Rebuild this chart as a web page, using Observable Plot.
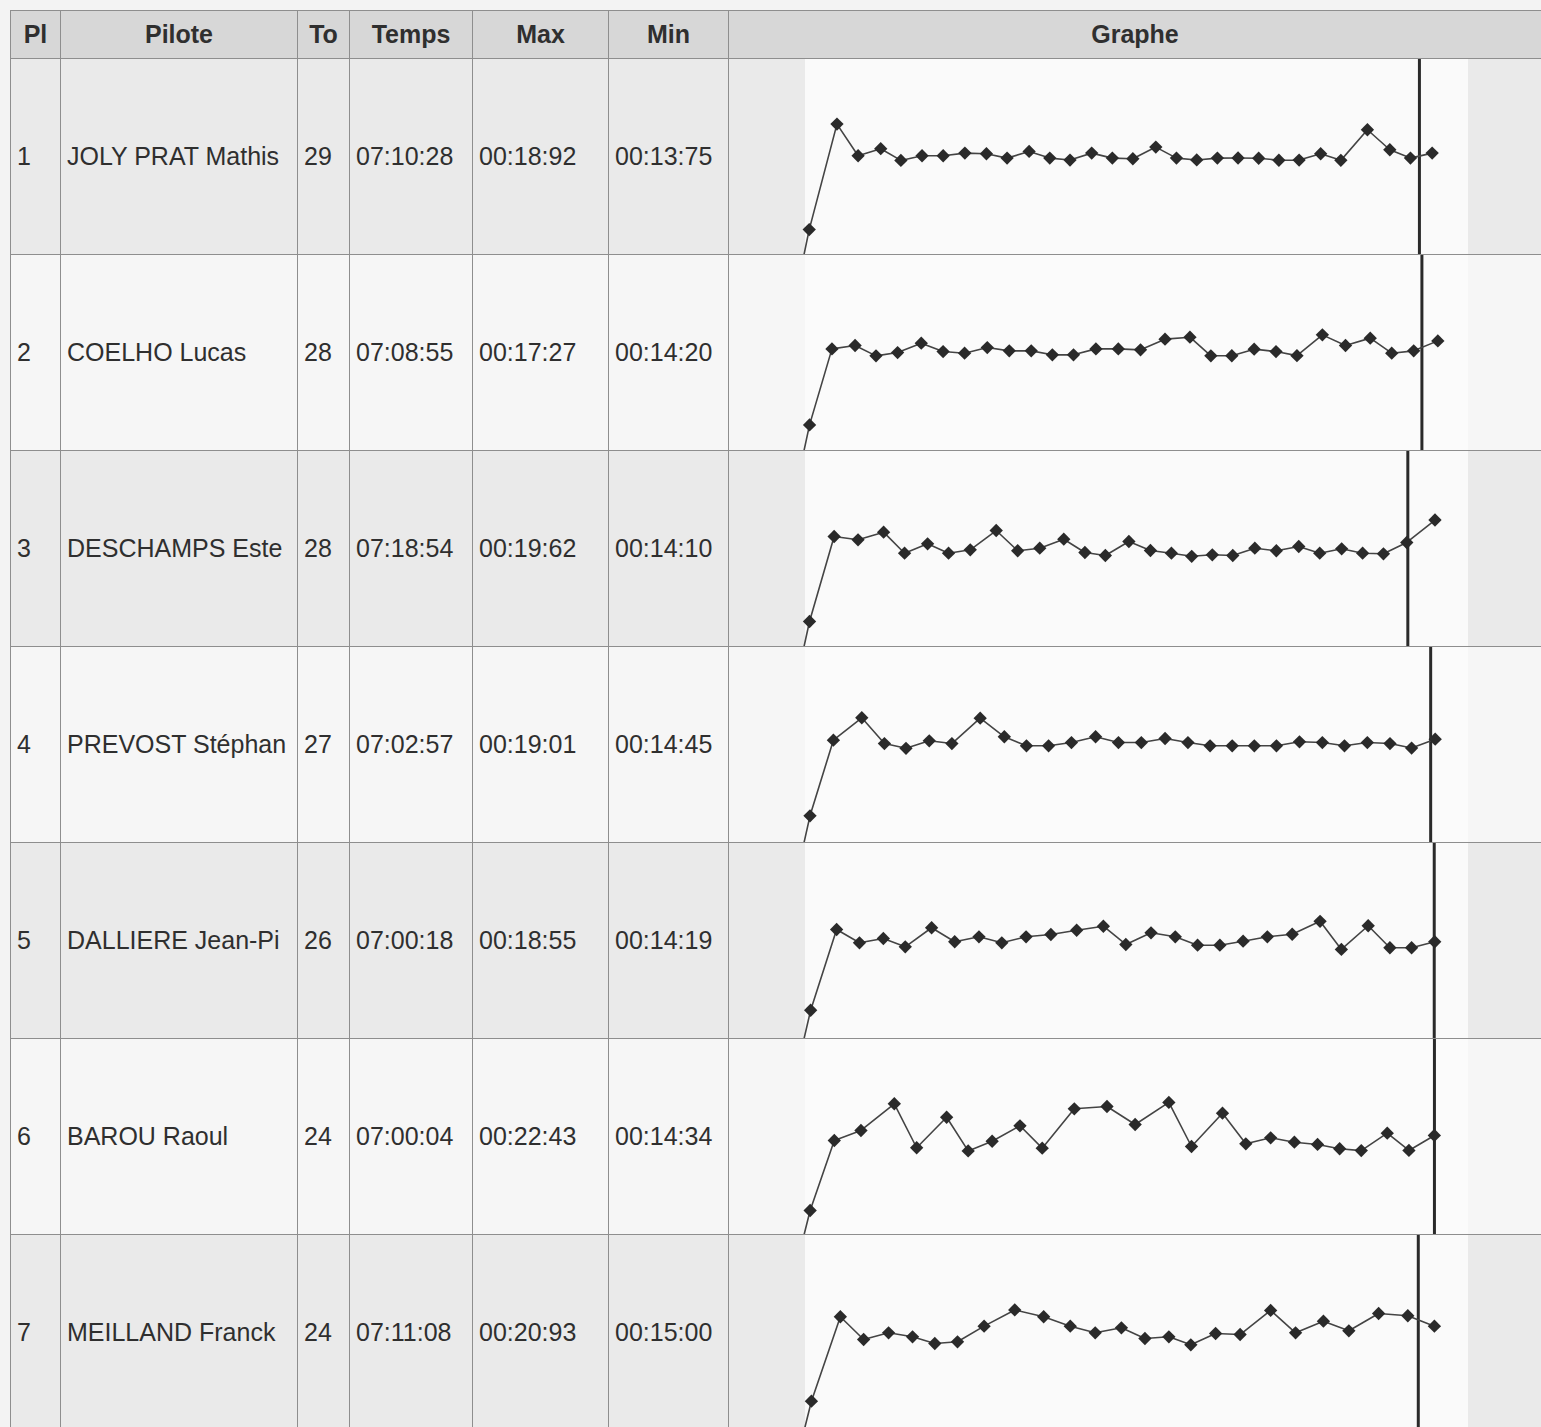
<!DOCTYPE html>
<html><head><meta charset="utf-8">
<script src="https://cdn.jsdelivr.net/npm/d3@7"></script>
<script src="https://cdn.jsdelivr.net/npm/@observablehq/plot@0.6"></script>
<style>
html,body{margin:0;padding:0;overflow:hidden;background:#f3f3f3;width:1541px;height:1427px;}
#tbl{position:absolute;left:10px;top:10px;display:grid;
  grid-template-columns:50px 237px 52px 123px 136px 120px 813px;
  grid-template-rows:48px repeat(7,196px);
  border-left:1px solid #8e8e8e;border-top:1px solid #8e8e8e;
  font-family:"Liberation Sans",Arial,sans-serif;font-size:25px;color:#2f2f2f;}
.c{box-sizing:border-box;border-right:1px solid #8e8e8e;border-bottom:1px solid #8e8e8e;
  display:flex;align-items:center;padding-left:6px;white-space:nowrap;overflow:hidden;}
.h{background:#d7d7d7;font-weight:bold;justify-content:center;padding-left:0;}
.odd{background:#eaeaea;}
.even{background:#f6f6f6;}
.g{padding:0;align-items:flex-start;}
.g.odd{background:linear-gradient(to right,#eaeaea 76px,#fafafa 76px,#fafafa 739px,#eaeaea 739px);}
.g.even{background:linear-gradient(to right,#f6f6f6 76px,#fbfbfb 76px,#fbfbfb 739px,#f6f6f6 739px);}
.g svg{display:block;}
</style></head>
<body>
<div id="tbl"></div>
<script>
const headers = ["Pl", "Pilote", "To", "Temps", "Max", "Min", "Graphe"];
const places = [1, 2, 3, 4, 5, 6, 7];
const pilots = ["JOLY PRAT Mathis", "COELHO Lucas", "DESCHAMPS Este", "PREVOST Stéphan", "DALLIERE Jean-Pi", "BAROU Raoul", "MEILLAND Franck"];
const tours = [29, 28, 28, 27, 26, 24, 24];
const temps = ["07:10:28", "07:08:55", "07:18:54", "07:02:57", "07:00:18", "07:00:04", "07:11:08"];
const maxTimes = ["00:18:92", "00:17:27", "00:19:62", "00:19:01", "00:18:55", "00:22:43", "00:20:93"];
const minTimes = ["00:13:75", "00:14:20", "00:14:10", "00:14:45", "00:14:19", "00:14:34", "00:15:00"];

// lap times in seconds (first value = start partial lap)
const laps1 = [3.9, 18.92, 14.42, 15.42, 13.75, 14.42, 14.42, 14.79, 14.70, 14.08, 15.03, 14.08, 13.80, 14.79, 14.08, 13.99, 15.65, 14.08, 13.82, 14.08, 14.10, 14.06, 13.78, 13.80, 14.70, 13.76, 18.12, 15.27, 14.08, 14.79];
const laps2 = [4.11, 15.22, 15.71, 14.20, 14.68, 16.06, 14.83, 14.59, 15.41, 14.93, 14.93, 14.35, 14.35, 15.22, 15.22, 15.08, 16.64, 16.93, 14.21, 14.22, 15.18, 14.83, 14.23, 17.27, 15.71, 16.79, 14.59, 14.93, 16.39];
const laps3 = [4.18, 17.11, 16.61, 17.77, 14.57, 16.00, 14.57, 15.09, 18.02, 14.94, 15.33, 16.70, 14.68, 14.22, 16.35, 14.98, 14.57, 14.10, 14.33, 14.22, 15.33, 14.94, 15.59, 14.57, 15.24, 14.57, 14.48, 16.20, 19.62];
const laps4 = [4.36, 15.66, 19.01, 15.16, 14.45, 15.57, 15.16, 18.95, 16.17, 14.82, 14.82, 15.31, 16.17, 15.31, 15.31, 15.91, 15.31, 14.82, 14.82, 14.82, 14.82, 15.42, 15.31, 14.82, 15.31, 15.16, 14.48, 15.81];
const laps5 = [4.77, 17.28, 15.22, 15.89, 14.60, 17.55, 15.38, 16.15, 15.22, 16.15, 16.51, 17.17, 17.79, 14.96, 16.77, 16.15, 14.85, 14.85, 15.47, 16.15, 16.55, 18.55, 14.19, 17.86, 14.45, 14.45, 15.38];
const laps6 = [4.42, 16.08, 17.75, 22.20, 14.87, 19.96, 14.34, 15.96, 18.53, 14.80, 21.36, 21.75, 18.75, 22.43, 15.08, 20.63, 15.53, 16.53, 15.80, 15.42, 14.70, 14.40, 17.30, 14.42, 16.92];
const laps7 = [5.41, 19.77, 15.90, 17.04, 16.36, 15.22, 15.51, 18.17, 20.93, 19.77, 18.17, 17.04, 17.89, 16.07, 16.36, 15.00, 16.92, 16.75, 20.85, 17.04, 19.02, 17.38, 20.33, 19.94, 18.17];
const allLaps = [laps1, laps2, laps3, laps4, laps5, laps6, laps7];
// y-scale upper bound (seconds) of each row's graph
const yMax = [28.12, 28.87, 30.04, 29.51, 30.61, 32.91, 33.59];
const raceDuration = 420; // 7:00 in seconds

function parseTime(s) { const [m, sec, cs] = s.split(":").map(Number); return m * 60 + sec + cs / 100; }

const tbl = document.getElementById("tbl");
function cell(txt, cls) { const d = document.createElement("div"); d.className = "c " + cls; if (txt !== null) d.textContent = txt; tbl.appendChild(d); return d; }

headers.forEach(h => cell(h, "h"));

places.forEach((p, i) => {
  const cls = i % 2 === 0 ? "odd" : "even";
  cell(String(p), cls);
  cell(pilots[i], cls);
  cell(String(tours[i]), cls);
  cell(temps[i], cls);
  cell(maxTimes[i], cls);
  cell(minTimes[i], cls);
  const g = cell(null, "g " + cls);
  const laps = allLaps[i];
  const cum = Array.from(d3.cumsum(laps));
  const pts = laps.map((v, k) => ({t: cum[k], v}));
  const lineData = [{t: 0, v: 0}, ...pts];
  const total = parseTime(temps[i]);
  const fig = Plot.plot({
    width: 812, height: 195,
    marginTop: 0, marginBottom: 0, marginLeft: 0, marginRight: 0,
    style: {background: "transparent", overflow: "hidden"},
    x: {domain: [0, total], range: [74, 705], axis: null},
    y: {domain: [0, yMax[i]], range: [197.5, 0], axis: null},
    marks: [
      Plot.ruleX([raceDuration], {stroke: "#2a2a2a", strokeWidth: 3}),
      Plot.line(lineData, {x: "t", y: "v", stroke: "#444", strokeWidth: 1.6}),
      Plot.dot(pts, {x: "t", y: "v", symbol: "diamond2", r: 6, fill: "#2a2a2a", stroke: "none"})
    ]
  });
  g.appendChild(fig);
});
</script>
</body></html>
